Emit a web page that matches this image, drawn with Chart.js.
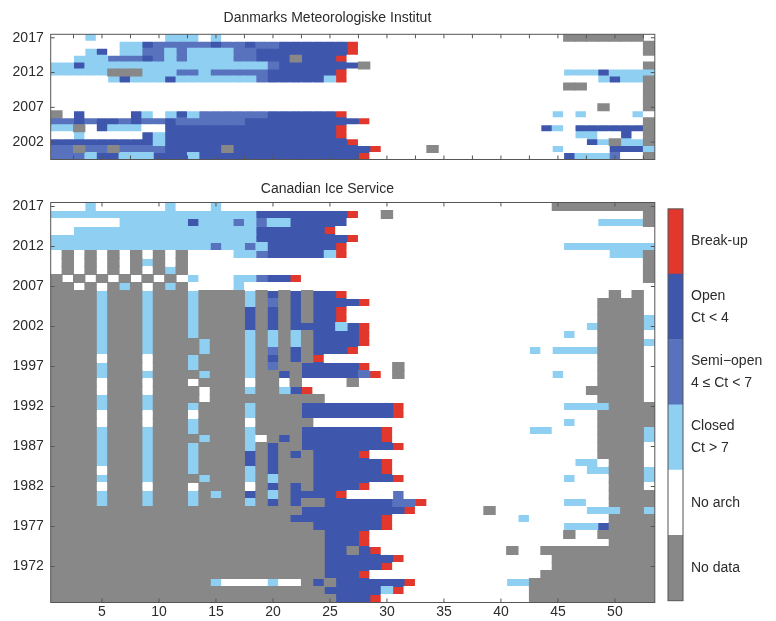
<!DOCTYPE html>
<html>
<head>
<meta charset="utf-8">
<title>Ice classes per week</title>
<script src="https://cdn.jsdelivr.net/npm/chart.js@4.4.1/dist/chart.umd.min.js"></script>
<style>
  html, body { margin: 0; background: #fff; }
  #wrap { position: relative; width: 776px; height: 621px; overflow: hidden; }
  canvas { position: absolute; }
</style>
</head>
<body>
<div id="wrap">
  <canvas id="cDmi" width="664" height="178" style="left:0;top:0"></canvas>
  <canvas id="cCis" width="664" height="451" style="left:0;top:170px"></canvas>
  <canvas id="cBar" width="116" height="431" style="left:660px;top:190px"></canvas>
</div>
<script>
/* Ice classes per week of year: DMI (top) and Canadian Ice Service (bottom). */

// one letter per week 1..53: g no data, w no arch, c closed, s semi-open, o open, b break-up
const weeks = [1, 2, 3, 4, 5, 6, 7, 8, 9, 10, 11, 12, 13, 14, 15, 16, 17, 18, 19, 20,
  21, 22, 23, 24, 25, 26, 27, 28, 29, 30, 31, 32, 33, 34, 35, 36, 37, 38, 39, 40,
  41, 42, 43, 44, 45, 46, 47, 48, 49, 50, 51, 52, 53];

const dmiYears = [2017, 2016, 2015, 2014, 2013, 2012, 2011, 2010, 2009, 2008,
  2007, 2006, 2005, 2004, 2003, 2002, 2001, 2000];
const dmiRows = [
  'wwwcwwwwww cccwcwwwww wwwwwwwwww wwwwwwwwww wwwwwggggg ggw',
  'wwwwwwccos ssssossoss oooooobwww wwwwwwwwww wwwwwwwwww wwg',
  'wwwcowccss csccccssoo oooooobwww wwwwwwwwww wwwwwwwwww wwg',
  'wwcccsssos csccccssoo ogooobwwww wwwwwwwwww wwwwwwwwww www',
  'ccoccccccc cccccccccs ooooooogww wwwwwwwwww wwwwwwwwww wwg',
  'cccccgggcc csscssssso ooooobwwww wwwwwwwwww wwwwwcccoc ccc',
  'wwwwwcoccc occcccccso oooocbwwww wwwwwwwwww wwwwwwwwco ccg',
  'wwwwwwwwww wwwwwwwwww wwwwwwwwww wwwwwwwwww wwwwwggwww wwg',
  'wwwwwwwwww wwwwwwwwww wwwwwwwwww wwwwwwwwww wwwwwwwwww wwg',
  'wwwwwwwwww wwwwwwwwww wwwwwwwwww wwwwwwwwww wwwwwwwwww wwg',
  'wwwwwwwwww wwwwwwwwww wwwwwwwwww wwwwwwwwww wwwwwwwwgw wwg',
  'gwowwwwocw cocsssssso ooooobwwww wwwwwwwwww wwwwcwcwww wcw',
  'ssosoososs ossssssooo ooooooobww wwwwwwwwww wwwwwwwwww wwg',
  'ccgwocccww oooooooooo ooooobwwww wwwwwwwwww wwwocwoooo oog',
  'wwcwwwwwoc oooooooooo ooooobwwww wwwwwwwwww wwwwwwccww owg',
  'oooooooooc oooooooooo oooooobwww wwwwwwwwww wwwwwwwocg ccg',
  'ssgssgssss ooooogoooo oooooooobw wwwgwwwwww wwwwcwwwwo ooc',
  'ssscooccco oocooooooo ooooooobww wwwwwwwwww wwwwwocccs wwg',
];

const cisYears = [2017, 2016, 2015, 2014, 2013, 2012, 2011, 2010, 2009, 2008,
  2007, 2006, 2005, 2004, 2003, 2002, 2001, 2000, 1999, 1998,
  1997, 1996, 1995, 1994, 1993, 1992, 1991, 1990, 1989, 1988,
  1987, 1986, 1985, 1984, 1983, 1982, 1981, 1980, 1979, 1978,
  1977, 1976, 1975, 1974, 1973, 1972, 1971, 1970, 1969, 1968];
const cisRows = [
  'wwwcwwwwww cwwwcwwwww wwwwwwwwww wwwwwwwwww wwwwgggggg ggg',
  'cccccccccc ccccccccoo oooooobwwg wwwwwwwwww wwwwwwwwww wwg',
  'wwwwwwcccc ccocccscsc cooooowwww wwwwwwwwww wwwwwwwwcc ccg',
  'wwcccccccc ccccccccoo oooobwwwww wwwwwwwwww wwwwwwwwww www',
  'cccccccccc ccccccccoo oooooobwww wwwwwwwwww wwwwwwwwww www',
  'cccccccccc ccccsccsco ooooobwwww wwwwwwwwww wwwwwccccc ccc',
  'wgwgwgwgwg wgwwwwccso oooocbwwww wwwwwwwwww wwwwwwwwwc ccg',
  'wgwgwgwgcg wgwwwwwwww wwwwwwwwww wwwwwwwwww wwwwwwwwww wwg',
  'wgwgwgwgwg cgwwwwwwww wwwwwwwwww wwwwwwwwww wwwwwwwwww wwg',
  'gwgwgwgwgw gwcwwwccso obwwwwwwww wwwwwwwwww wwwwwwwwww wwg',
  'ggwgwgcgwg cgwwwwcwww wwwwwwwwww wwwwwwwwww wwwwwwwwww www',
  'ggggcgggcg ggcggggcgo gogoobwwww wwwwwwwwww wwwwwwwwwg wgw',
  'ggggcgggcg ggcggggcgs gogoooobww wwwwwwwwww wwwwwwwwgg ggw',
  'ggggcgggcg ggcggggogo gogoobwwww wwwwwwwwww wwwwwwwwgg ggw',
  'ggggcgggcg ggcggggogo gogoobwwww wwwwwwwwww wwwwwwwwgg ggc',
  'ggggcgggcg ggcggggogo goooocobww wwwwwwwwww wwwwwwwcgg ggc',
  'ggggcgggcg ggcggggcgc gcgoooobww wwwwwwwwww wwwwwcwwgg ggw',
  'ggggcgggcg gggcgggcgc gcgoooobww wwwwwwwwww wwwwwwwwgg ggc',
  'ggggcgggcg gggcgggcgs gogooobwww wwwwwwwwww wwcwccccgg ggw',
  'ggggwgggwg ggcggggcgo gogbwwwwww wwwwwwwwww wwwwwwwwgg ggw',
  'ggggcgggwg ggcggggcgs ggooooobww gwwwwwwwww wwwwwwwwgg ggw',
  'ggggcgggcg gggcgggcgg ogooooosbw gwwwwwwwww wwwwcwwwgg ggw',
  'ggggwgggwg ggwggggwgg wgwwwwgwww wwwwwwwwww wwwwwwwwgg ggw',
  'ggggwgggwg gggwgggcgg cobwwwwwww wwwwwwwwww wwwwwwwggg ggw',
  'ggggcgggcg gggwgggggg ggggwwwwww wwwwwwwwww wwwwwwwwgg ggw',
  'ggggcgggcg ggcggggcgg ggoooooooo bwwwwwwwww wwwwwccccg ggg',
  'ggggwgggwg ggwggggcgg ggoooooooo bwwwwwwwww wwwwwwwwgg ggg',
  'ggggwgggwg ggcggggwgg gggwwwwwww wwwwwwwwww wwwwwcwwgg ggg',
  'ggggcgggcg ggcggggcgg ggooooooob wwwwwwwwww wwccwwwwgg ggc',
  'ggggcgggcg gggcgggcwg ogooooooob wwwwwwwwww wwwwwwwwgg ggc',
  'ggggcgggcg ggcggggcgo ggoooooooo bwwwwwwwww wwwwwwwwgg ggw',
  'ggggcgggcg ggcggggogo gogoooobww wwwwwwwwww wwwwwwwwgg ggw',
  'ggggcgggcg ggcggggogo gggoooooob wwwwwwwwww wwwwwwccwg ggw',
  'ggggwgggcg ggcggggcgo gggoooooob wwwwwwwwww wwwwwwwccg ggc',
  'ggggcgggcg gggcgggcgc gggooooooo bwwwwwwwww wwwwwcwwwg ggc',
  'ggggwgggwg ggwggggwgo gogoooobww wwwwwwwwww wwwwwwwwwg ggw',
  'ggggcgggcg ggcgcggogc goooobwwww swwwwwwwww wwwwwwwwwg ggg',
  'ggggcgggcg ggcggggcgo goggoooooo ssbwwwwwww wwwwwccwwg ggg',
  'gggggggggg gggggggggg ggoooooooo obwwwwwwgw wwwwwwwccc ggc',
  'gggggggggg gggggggggg goooooooob wwwwwwwwww wcwwwwwwwg ggg',
  'gggggggggg gggggggggg gggoooooob wwwwwwwwww wwwwwcccog ggg',
  'gggggggggg gggggggggg ggggooobww wwwwwwwwww wwwwwgwwgg ggg',
  'gggggggggg gggggggggg ggggooobww wwwwwwwwww wwwwwwwwwg ggg',
  'gggggggggg gggggggggg ggggoogobw wwwwwwwwww gwwggggggg ggg',
  'gggggggggg gggggggggg ggggoooooo bwwwwwwwww wwwwgggggg ggg',
  'gggggggggg gggggggggg ggggooooob wwwwwwwwww wwwwgggggg ggg',
  'gggggggggg gggggggggg ggggooobww wwwwwwwwww wwwggggggg ggg',
  'gggggggggg ggggcwwwwc wwgogooooo obwwwwwwww ccgggggggg ggg',
  'gggggggggg gggggggggg ggggoooooc bwwwwwwwww wwgggggggg ggg',
  'gggggggggg gggggggggg gggggooobw wwwwwwwwww wwgggggggg ggg',
];

// colour bar, bottom to top
const classCodes = ['g', 'w', 'c', 's', 'o', 'b'];
const classLabels = [['No data'], ['No arch'], ['Closed', 'Ct > 7'], ['Semi\u2212open', '4 \u2264 Ct < 7'], ['Open', 'Ct < 4'], ['Break-up']];
const classTicks = [0.5, 1.5, 2.5, 3.5, 4.5, 5.5];

const weekLabelTicks = [5, 10, 15, 20, 25, 30, 35, 40, 45, 50];
const dmiWeekTicks = [2.5, 5, 7.5, 10, 12.5, 15, 17.5, 20, 22.5, 25, 27.5, 30, 32.5, 35, 37.5, 40, 42.5, 45, 47.5, 50, 52.5];
const dmiYearTicks = [2002, 2007, 2012, 2017];
const cisYearTicks = [1972, 1977, 1982, 1987, 1992, 1997, 2002, 2007, 2012, 2017];

const COLORS = { g: '#888888', w: '#ffffff', c: '#8ecff2', s: '#5872bd', o: '#3e57ad', b: '#e2372d' };
const FONT = 'Liberation Sans, Arial, Helvetica, sans-serif';
const INK = '#2b2b2b';

// Matlab-like box with inward tick marks
const innerTicks = {
  id: 'innerTicks',
  afterDraw(chart, args, opts) {
    const { ctx, chartArea: a, scales } = chart;
    ctx.save();
    ctx.strokeStyle = '#555';
    ctx.lineWidth = 1;
    ctx.strokeRect(a.left, a.top, a.width, a.height);
    const len = 4;
    ctx.beginPath();
    (opts.x || []).forEach(v => {
      const px = scales.x.getPixelForValue(v);
      ctx.moveTo(px, a.bottom); ctx.lineTo(px, a.bottom - len);
      ctx.moveTo(px, a.top); ctx.lineTo(px, a.top + len);
    });
    (opts.y || []).forEach(v => {
      const py = scales.y.getPixelForValue(v);
      ctx.moveTo(a.left, py); ctx.lineTo(a.left + len, py);
      ctx.moveTo(a.right, py); ctx.lineTo(a.right - len, py);
    });
    ctx.stroke();
    ctx.restore();
  }
};

function cellSets(years, rows) {
  return classCodes.map(code => {
    const data = [];
    rows.forEach((row, i) => {
      const cells = row.replace(/\s/g, '');
      weeks.forEach((w, k) => {
        if (cells[k] === code) data.push({ x: w, y: [years[i] - 0.5, years[i] + 0.5] });
      });
    });
    return { data, backgroundColor: COLORS[code], grouped: false, barPercentage: 1, categoryPercentage: 1, borderWidth: 0, inflateAmount: 0.5 };
  });
}

function panel(id, title, years, rows, yRange, yTicks, xTicks, showX, titlePad) {
  return new Chart(document.getElementById(id), {
    type: 'bar',
    data: { datasets: cellSets(years, rows) },
    options: {
      responsive: false, animation: false, events: [],
      layout: { padding: { right: 9.2 } },
      plugins: {
        legend: { display: false }, tooltip: { enabled: false },
        title: { display: true, text: title, color: INK, font: { family: FONT, size: 14, weight: 'normal', lineHeight: 1.2 }, padding: titlePad },
        innerTicks: { x: xTicks, y: yTicks },
      },
      scales: {
        x: {
          type: 'linear', min: 0.5, max: 53.5, offset: false, display: showX,
          grid: { display: false, drawTicks: false }, border: { display: false },
          afterBuildTicks: s => { s.ticks = weekLabelTicks.map(v => ({ value: v })); },
          ticks: { autoSkip: false, maxRotation: 0, padding: 1.5, color: INK, font: { family: FONT, size: 14 }, callback: v => String(v) },
          afterFit: s => { s.height = 18.5; },
        },
        y: {
          type: 'linear', min: yRange[0], max: yRange[1],
          grid: { display: false, drawTicks: false }, border: { display: false },
          afterBuildTicks: s => { s.ticks = yTicks.map(v => ({ value: v })); },
          ticks: { autoSkip: false, padding: 7, color: INK, font: { family: FONT, size: 14 }, callback: v => String(v) },
          afterFit: s => { s.width = 50.7; },
        },
      },
    },
    plugins: [innerTicks],
  });
}

panel('cDmi', 'Danmarks Meteorologiske Institut', dmiYears, dmiRows, [1999.5, 2017.5], dmiYearTicks, dmiWeekTicks, false, { top: 9.6, bottom: 7.9 });
panel('cCis', 'Canadian Ice Service', cisYears, cisRows, [1967.5, 2017.5], cisYearTicks, weekLabelTicks, true, { top: 11, bottom: 4.7 });

// colour bar
new Chart(document.getElementById('cBar'), {
  type: 'bar',
  data: {
    labels: [''],
    datasets: classCodes.map(code => ({ data: [1], backgroundColor: COLORS[code], barPercentage: 1, categoryPercentage: 1, borderWidth: 0 })),
  },
  options: {
    responsive: false, animation: false, events: [],
    layout: { padding: { left: 8, top: 12.7, bottom: 20.3, right: 0 } },
    plugins: { legend: { display: false }, tooltip: { enabled: false }, innerTicks: {} },
    scales: {
      x: { stacked: true, display: false },
      y: {
        stacked: true, position: 'right', min: 0, max: 6,
        grid: { display: false, drawTicks: false }, border: { display: false },
        afterBuildTicks: s => { s.ticks = classTicks.map(v => ({ value: v })); },
        ticks: { autoSkip: false, padding: 8, color: INK, font: { family: FONT, size: 14, lineHeight: 1.55 }, callback: (v, i) => classLabels[i] },
        afterFit: s => { s.width = 93; },
      },
    },
  },
  plugins: [innerTicks],
});
</script>
</body>
</html>
